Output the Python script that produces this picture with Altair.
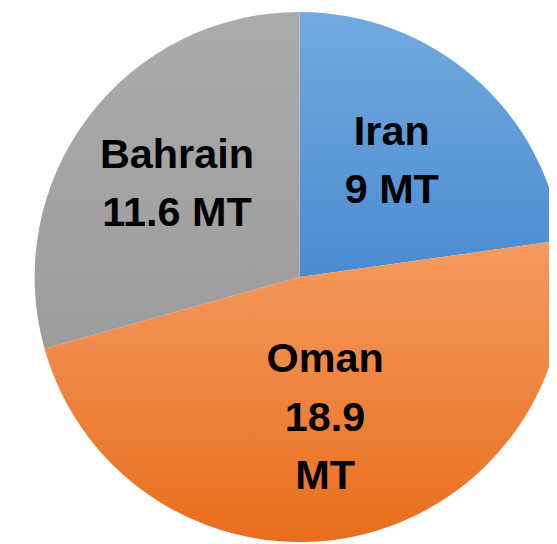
import altair as alt
import pandas as pd

countries = ["Iran", "Oman", "Bahrain"]
values = [9, 18.9, 11.6]
label_lines = [["Iran", "9 MT"], ["Oman", "18.9", "MT"], ["Bahrain", "11.6 MT"]]
top_colors = ["#72aadf", "#f59a60", "#ababab"]
bottom_colors = ["#4a8bd0", "#e86e1c", "#9c9c9c"]

total = sum(values)
starts = [sum(values[:i]) for i in range(len(values))]

df = pd.DataFrame({"country": countries, "value": values, "start": starts,
                   "end": [s + v for s, v in zip(starts, values)]})

rows = []
for c, s, v, lines in zip(countries, starts, values, label_lines):
    n = len(lines)
    for i, ln in enumerate(lines):
        rows.append({"country": c, "mid": s + v / 2, "line": ln, "k": 2 * i - (n - 1)})
lab = pd.DataFrame(rows)

CX, CY, R = 296, 269, 269
LH = 59

theta_scale = alt.Scale(domain=[0, total], range=[0, 6.283185307])

layers = []
for c, t, b in zip(countries, top_colors, bottom_colors):
    grad = alt.LinearGradient(
        gradient="linear", x1=0, y1=0, x2=0, y2=1,
        stops=[alt.GradientStop(offset=0, color=t), alt.GradientStop(offset=1, color=b)],
    )
    layers.append(
        alt.Chart(df).transform_filter(alt.datum.country == c)
        .mark_arc(fill=grad, outerRadius=R)
        .encode(
            theta=alt.Theta("start:Q", scale=theta_scale),
            theta2="end:Q",
            x=alt.value(CX),
            y=alt.value(CY),
        )
    )

for k in sorted(lab["k"].unique()):
    layers.append(
        alt.Chart(lab).transform_filter(alt.datum.k == int(k))
        .mark_text(font="Liberation Sans", fontWeight="bold", fontSize=42, color="black",
                   align="center", baseline="middle", radius=150, dy=float(k) * LH / 2 - 4,
                   dx=-5)
        .encode(
            theta=alt.Theta("mid:Q", scale=theta_scale),
            text="line:N",
            x=alt.value(CX),
            y=alt.value(CY),
        )
    )

chart = (
    alt.layer(*layers)
    .properties(width=549, height=536, padding=0, autosize="none")
    .configure_view(stroke=None)
)

chart.save("out.html", embed_options={"renderer": "svg", "actions": False})
